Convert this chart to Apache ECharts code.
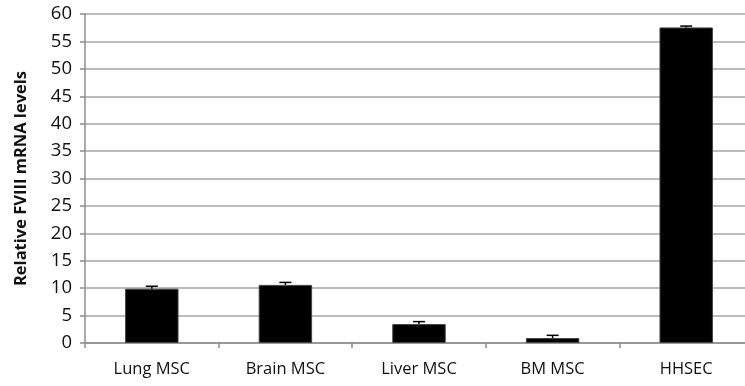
<!DOCTYPE html>
<html>
<head>
<meta charset="utf-8">
<script src="https://cdn.jsdelivr.net/npm/echarts@6/dist/echarts.min.js"></script>
<style>
html,body{margin:0;padding:0;background:#fff;}
#chart{width:745px;height:386px;}
</style>
</head>
<body>
<div id="chart"></div>
<script>
// Relative FVIII mRNA expression by cell type
const categories = ['Lung MSC', 'Brain MSC', 'Liver MSC', 'BM MSC', 'HHSEC'];
const meanValues = [9.9, 10.6, 3.45, 0.9, 57.55];
const errorValues = [0.45, 0.45, 0.45, 0.5, 0.25];
const yTicks = [0, 5, 10, 15, 20, 25, 30, 35, 40, 45, 50, 55, 60];

const FONT = '"Open Sans", "Liberation Sans", sans-serif';
const chart = echarts.init(document.getElementById('chart'));

const errorData = categories.map((c, i) => [i, meanValues[i], meanValues[i] + errorValues[i]]);

chart.setOption({
  animation: false,
  grid: { left: 85, width: 668, top: 14, height: 329, outerBoundsMode: 'none', containLabel: false },
  xAxis: {
    type: 'category',
    data: categories,
    boundaryGap: true,
    axisLine: { lineStyle: { color: '#8c8c8c', width: 1.5 } },
    axisTick: { show: true, length: 5, lineStyle: { color: '#8c8c8c', width: 1.5 } },
    axisLabel: { color: '#111', fontFamily: FONT, fontSize: 16.5, margin: 18 }
  },
  yAxis: {
    type: 'value',
    min: yTicks[0],
    max: yTicks[yTicks.length - 1],
    interval: 5,
    name: 'Relative FVIII mRNA levels',
    nameLocation: 'middle',
    nameGap: 55,
    nameTextStyle: { color: '#111', fontFamily: FONT, fontSize: 16.5, fontWeight: 'bold' },
    axisLine: { show: true, lineStyle: { color: '#8c8c8c', width: 1.5 } },
    axisTick: { show: true, length: 5, lineStyle: { color: '#8c8c8c', width: 1.5 } },
    axisLabel: { color: '#111', fontFamily: FONT, fontSize: 18.5, margin: 13 },
    splitLine: { show: true, lineStyle: { color: '#a6a6a6', width: 1.5 } }
  },
  series: [
    {
      type: 'bar',
      data: meanValues,
      barWidth: '40%',
      itemStyle: { color: '#000', borderColor: '#444', borderWidth: 1 },
      z: 2
    },
    {
      type: 'custom',
      data: errorData,
      z: 3,
      renderItem: function (params, api) {
        const x = api.value(0);
        const base = api.coord([x, api.value(1)]);
        const top = api.coord([x, api.value(2)]);
        const half = 6;
        return {
          type: 'group',
          children: [
            { type: 'line', shape: { x1: base[0], y1: base[1], x2: top[0], y2: top[1] },
              style: { stroke: '#000', lineWidth: 1.5 } },
            { type: 'line', shape: { x1: top[0] - half, y1: top[1], x2: top[0] + half, y2: top[1] },
              style: { stroke: '#000', lineWidth: 1.5 } }
          ]
        };
      }
    }
  ]
});
</script>
</body>
</html>
